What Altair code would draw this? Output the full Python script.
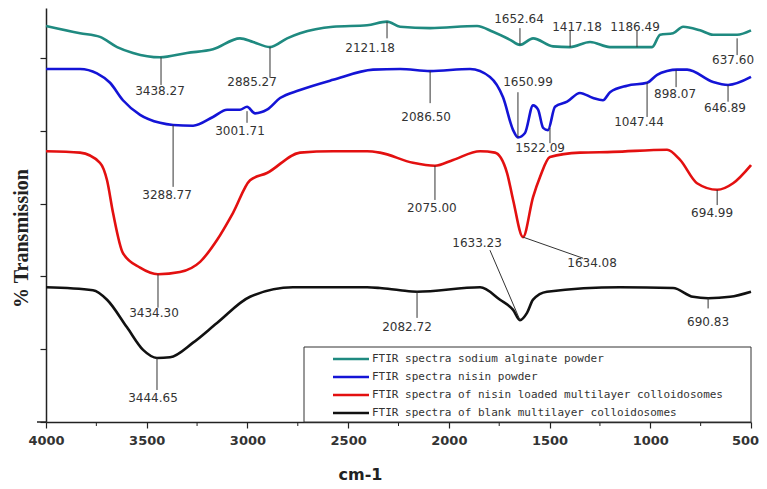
import altair as alt
import pandas as pd

# ---------------- data ----------------
series_names = [
    "FTIR spectra sodium alginate powder",
    "FTIR spectra nisin powder",
    "FTIR spectra of nisin loaded multilayer colloidosomes",
    "FTIR spectra of blank multilayer colloidosomes",
]
series_colors = ["#1f8a80", "#1414d6", "#e31010", "#111111"]

alg_cm = [4000, 3831, 3732, 3647, 3568, 3434, 3300, 3171, 3037, 2972, 2888, 2803,
          2739, 2575, 2406, 2307, 2242, 2093, 1860, 1781, 1696, 1647, 1582, 1483,
          1398, 1299, 1200, 1066, 991, 951, 887, 837, 753, 688, 569, 500]
alg_T = [54.4, 53.4, 52.9, 51.5, 50.7, 50.1, 50.7, 51.2, 52.7, 52.2, 51.5, 52.7,
         53.4, 54.3, 54.5, 55.0, 54.3, 54.1, 54.4, 53.6, 52.5, 51.8, 52.7, 51.6,
         51.5, 52.2, 51.5, 51.5, 51.5, 53.2, 53.4, 54.3, 53.8, 53.2, 53.2, 53.8]

nis_cm = [4000, 3831, 3747, 3682, 3618, 3533, 3434, 3369, 3270, 3171, 3101, 3037,
          3002, 2962, 2903, 2838, 2739, 2575, 2376, 2242, 2093, 1895, 1796, 1731,
          1681, 1657, 1622, 1582, 1557, 1532, 1508, 1473, 1413, 1349, 1284, 1235,
          1200, 1115, 1016, 966, 917, 867, 817, 688, 614, 500]
nis_T = [48.5, 48.5, 47.9, 46.6, 44.2, 42.2, 41.1, 40.8, 40.7, 41.9, 42.9, 42.9,
         43.3, 42.4, 42.9, 44.5, 45.6, 47.0, 48.4, 48.5, 48.2, 48.5, 47.4, 44.6,
         40.1, 39.1, 39.7, 43.5, 42.9, 40.4, 40.1, 43.3, 44.0, 45.2, 44.5, 44.2,
         45.3, 46.2, 46.6, 47.7, 48.2, 48.4, 48.4, 46.7, 46.3, 47.4]

red_cm = [4000, 3831, 3732, 3697, 3667, 3618, 3533, 3444, 3335, 3235, 3151, 3072,
          2987, 2903, 2739, 2575, 2406, 2342, 2178, 2069, 1979, 1845, 1771, 1711,
          1681, 1632, 1582, 1547, 1498, 1349, 1185, 917, 852, 768, 668, 589, 500]
red_T = [37.2, 37.0, 35.6, 33.2, 28.7, 23.2, 21.2, 20.3, 20.6, 22.0, 25.0, 28.7,
         33.2, 34.2, 37.0, 37.2, 37.2, 37.0, 35.6, 35.2, 36.0, 37.2, 37.0, 34.2,
         30.5, 25.4, 30.9, 33.7, 36.4, 37.0, 37.1, 37.4, 36.0, 32.8, 31.9, 32.8, 35.3]

blk_cm = [4000, 3767, 3697, 3598, 3518, 3449, 3384, 3270, 3151, 2987, 2774, 2406,
          2342, 2242, 2158, 1845, 1746, 1681, 1647, 1612, 1582, 1513, 1150, 887,
          788, 713, 604, 500]
blk_T = [18.5, 18.1, 16.8, 13.0, 9.9, 8.8, 8.9, 10.9, 13.6, 17.2, 18.5, 18.5,
         18.4, 18.1, 17.9, 18.5, 16.8, 15.4, 14.0, 15.0, 16.8, 17.9, 18.5, 18.4,
         17.2, 17.0, 17.2, 17.9]

# peak annotations: label text, label position, leader line end points
ann_text = ["3438.27", "2885.27", "2121.18", "1652.64", "1417.18", "1186.49", "637.60",
            "3288.77", "3001.71", "2086.50", "1650.99", "1522.09", "1047.44", "898.07", "646.89",
            "3434.30", "2075.00", "1634.08", "694.99",
            "3444.65", "2082.72", "1633.23", "690.83"]
ann_lab_cm = [3434, 2977, 2391, 1652, 1364, 1076, 589,
              3399, 3037, 2113, 1607, 1547, 1056, 877, 629,
              3464, 2084, 1289, 693,
              3469, 2208, 1860, 713]
ann_lab_T = [45.5, 46.7, 51.4, 55.4, 54.3, 54.3, 49.7,
             31.2, 40.0, 41.9, 46.7, 37.6, 41.2, 45.1, 43.1,
             15.0, 29.4, 21.8, 28.7,
             3.3, 13.0, 24.6, 13.8]
ann_c1 = [3429, 2888, 2307, 1647, 1398, 1066, 569,
          3369, 3002, 2093, 1657, 1498, 1016, 872, 614,
          3444, 2069, 1632, 668,
          3449, 2158, 1647, 713]
ann_t1 = [50.1, 51.5, 55.0, 51.8, 51.5, 51.5, 50.4,
          40.8, 42.7, 48.2, 39.1, 40.4, 46.6, 48.4, 46.3,
          20.3, 35.2, 25.4, 31.9,
          8.8, 17.9, 14.0, 17.0]
ann_c2 = [3429, 2888, 2307, 1647, 1398, 1066, 569,
          3369, 3002, 2093, 1657, 1498, 1016, 872, 614,
          3444, 2069, 1334, 668,
          3449, 2158, 1796, 713]
ann_t2 = [46.3, 47.3, 52.7, 54.1, 53.8, 53.8, 52.7,
          32.3, 41.1, 43.8, 45.3, 38.3, 41.9, 46.0, 44.0,
          15.7, 30.5, 22.5, 29.8,
          4.4, 14.3, 23.6, 15.6]

x_major = [4000, 3500, 3000, 2500, 2000, 1500, 1000, 500]
x_minor = [3750, 3250, 2750, 2250, 1750, 1250, 750]
y_ticks = [0, 10, 20, 30, 40, 50]

# ---------------- build tables ----------------
rows = []
for name, cms, ts in zip(series_names, [alg_cm, nis_cm, red_cm, blk_cm],
                         [alg_T, nis_T, red_T, blk_T]):
    for i, (c, t) in enumerate(zip(cms, ts)):
        rows.append({"series": name, "cm": c, "T": t, "i": i})
df = pd.DataFrame(rows)

ann = pd.DataFrame({"label": ann_text, "lc": ann_lab_cm, "lt": ann_lab_T,
                    "c1": ann_c1, "t1": ann_t1, "c2": ann_c2, "t2": ann_t2})

W, H = 705, 414
x_scale = alt.Scale(domain=[4000, 500], nice=False, zero=False)
y_scale = alt.Scale(domain=[0, 56.87], nice=False, zero=False)

x_axis = alt.Axis(values=x_major, title="cm-1", format="d", grid=False,
                  tickSize=6, labelPadding=6, labelFlush=False,
                  labelOffset={"condition": {"test": "datum.value === 500",
                                             "value": -6}, "value": 0},
                  labelFont="DejaVu Sans", labelFontWeight="bold",
                  labelFontSize=13, labelColor="#333",
                  titleFont="DejaVu Sans", titleFontWeight="bold",
                  titleFontSize=16, titleColor="#222",
                  titleX=314, titleY=52, titleBaseline="middle",
                  titleAlign="center")
y_axis = alt.Axis(values=y_ticks, labels=False, grid=False, tickSize=6,
                  title="% Transmission", titleFont="Liberation Serif",
                  titleFontWeight="bold", titleFontSize=20,
                  titleColor="#222", titleX=-25, titleY=230,
                  titleAngle=270, titleAlign="center",
                  titleBaseline="middle")

lines = alt.Chart(df).mark_line(strokeWidth=2.6, interpolate="monotone").encode(
    x=alt.X("cm:Q", scale=x_scale, axis=x_axis),
    y=alt.Y("T:Q", scale=y_scale, axis=y_axis),
    color=alt.Color("series:N", scale=alt.Scale(domain=series_names,
                                                range=series_colors), legend=None),
    order=alt.Order("i:Q"),
)

leaders = alt.Chart(ann).mark_rule(color="#333", strokeWidth=1).encode(
    x=alt.X("c1:Q", scale=x_scale, axis=x_axis),
    y=alt.Y("t1:Q", scale=y_scale, axis=y_axis),
    x2="c2:Q", y2="t2:Q",
)

labels = alt.Chart(ann).mark_text(font="DejaVu Sans", fontSize=12, color="#333",
                                  align="center", baseline="middle").encode(
    x=alt.X("lc:Q", scale=x_scale, axis=x_axis),
    y=alt.Y("lt:Q", scale=y_scale, axis=y_axis),
    text="label:N",
)

minor = alt.Chart(pd.DataFrame({"m": x_minor})).mark_rule(
    color="#222", strokeWidth=1).encode(
    x=alt.X("m:Q", scale=x_scale, axis=x_axis),
    y=alt.value(H), y2=alt.value(H + 4),
)

ext = alt.Chart(pd.DataFrame({"a": [0]})).mark_rule(color="#222", strokeWidth=1.5).encode(
    x=alt.value(-9), x2=alt.value(0), y=alt.value(H))

box = alt.Chart(pd.DataFrame({"a": [0]})).mark_rect(
    fill="white", stroke="#333", strokeWidth=1).encode(
    x=alt.value(258), x2=alt.value(W), y=alt.value(339), y2=alt.value(H))

layers = [lines, leaders, labels, minor, ext, box]
for k, (name, col) in enumerate(zip(series_names, series_colors)):
    yy = 351 + 18 * k
    one = pd.DataFrame({"name": [name]})
    layers.append(alt.Chart(one).mark_rule(color=col, strokeWidth=2.6).encode(
        x=alt.value(287), x2=alt.value(323), y=alt.value(yy)))
    layers.append(alt.Chart(one).mark_text(
        font="DejaVu Sans Mono", fontSize=11, color="#333", align="left",
        baseline="middle").encode(x=alt.value(326), y=alt.value(yy), text="name:N"))

chart = alt.layer(*layers).properties(
    width=W, height=H,
    autosize=alt.AutoSizeParams(type="none"),
    padding={"left": 38, "top": 0, "right": 8, "bottom": 67},
).configure_view(strokeWidth=0).configure_axis(
    domainColor="#222", tickColor="#222", domainWidth=1.5, tickWidth=1.2
)

chart.save("out.html", embed_options={"renderer": "svg", "actions": False})
